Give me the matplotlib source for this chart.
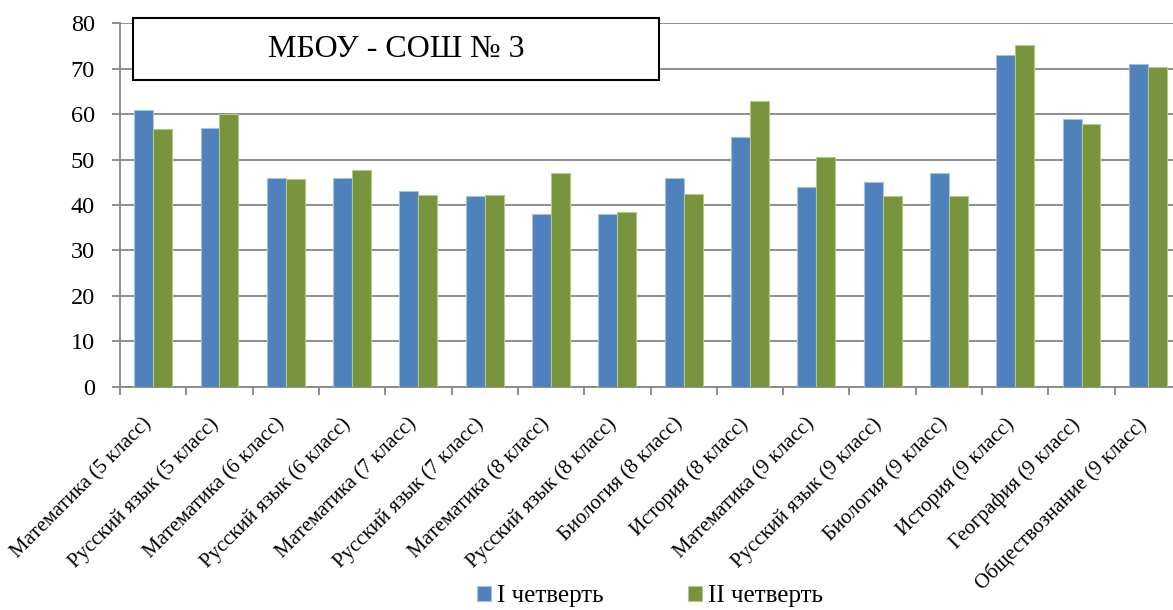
import matplotlib
matplotlib.use("Agg")
import matplotlib.pyplot as plt
import matplotlib.transforms as mtransforms
from matplotlib.patches import Rectangle
import numpy as np

categories = [
    "Математика (5 класс)", "Русский язык (5 класс)", "Математика (6 класс)",
    "Русский язык (6 класс)", "Математика (7 класс)", "Русский язык (7 класс)",
    "Математика (8 класс)", "Русский язык (8 класс)", "Биология (8 класс)",
    "История (8 класс)", "Математика (9 класс)", "Русский язык (9 класс)",
    "Биология (9 класс)", "История (9 класс)", "География (9 класс)",
    "Обществознание (9 класс)",
]
q1 = [61, 57, 46, 46, 43, 42, 38, 38, 46, 55, 44, 45, 47, 73, 59, 71]
q2 = [56.7, 60, 45.8, 47.6, 42.2, 42.2, 47.1, 38.5, 42.4, 62.9, 50.5, 41.9, 42, 75.2, 57.9, 70.4]
series_names = ["I четверть", "II четверть"]
title_text = "МБОУ - СОШ № 3"
yticks = [0, 10, 20, 30, 40, 50, 60, 70, 80]

FAM = ['Liberation Serif', 'DejaVu Serif']
plt.rcParams['font.family'] = FAM

W, H = 1173, 610
fig = plt.figure(figsize=(W / 100, H / 100), dpi=100)
ax = fig.add_axes([120 / W, (H - 386.7) / H, 1061 / W, 363.4 / H])

n = len(categories)
x = np.arange(n)
bw = 1 / 3.5
blue = "#4F81BD"
green = "#77933C"
ax.bar(x - bw / 2, q1, width=bw, color=blue, edgecolor="#A7C0DE", linewidth=0.8, label=series_names[0], zorder=3)
ax.bar(x + bw / 2, q2, width=bw, color=green, edgecolor="#B3C98A", linewidth=0.8, label=series_names[1], zorder=3)

ax.set_xlim(-0.5, n - 0.5)
ax.set_ylim(0, 80)
ax.set_yticks(yticks)
ax.set_yticklabels([str(v) for v in yticks], fontsize=17.5, family=FAM)
ax.yaxis.grid(True, color="#868686", linewidth=1.3, zorder=0)
ax.set_axisbelow(True)
for s in ["top", "right"]:
    ax.spines[s].set_visible(False)
for s in ["left", "bottom"]:
    ax.spines[s].set_color("#868686")
    ax.spines[s].set_linewidth(1.3)

ax.tick_params(axis="y", direction="out", length=6, width=1.3, color="#868686", pad=12)
ax.set_xticks(np.arange(-0.5, n, 1), minor=True)
ax.set_xticks(x)
ax.tick_params(axis="x", which="minor", direction="out", length=6, width=1.3, color="#868686")
ax.tick_params(axis="x", which="major", length=0, pad=25)
ax.set_xticklabels(categories, rotation=45, ha="right", rotation_mode="anchor", va="center",
                   fontsize=15, family=FAM)
offset = mtransforms.ScaledTranslation(-4 / 100, 0, fig.dpi_scale_trans)
for lab in ax.get_xticklabels():
    lab.set_transform(lab.get_transform() + offset)

rect = Rectangle((0.012, 0.843), 0.496, 0.172, transform=ax.transAxes, facecolor="white",
                 edgecolor="black", linewidth=1.5, clip_on=False, zorder=5)
ax.add_patch(rect)
ax.text(0.26, 0.929, title_text, transform=ax.transAxes, ha="center", va="center",
        fontsize=23, zorder=6)

leg = fig.legend(loc="center", bbox_to_anchor=(650 / W, (H - 596) / H), ncol=2, frameon=False,
                 prop={'family': FAM, 'size': 18}, handlelength=0.56, handleheight=0.56,
                 handletextpad=0.23, columnspacing=3.4)

fig.savefig("out.png", dpi=100)
